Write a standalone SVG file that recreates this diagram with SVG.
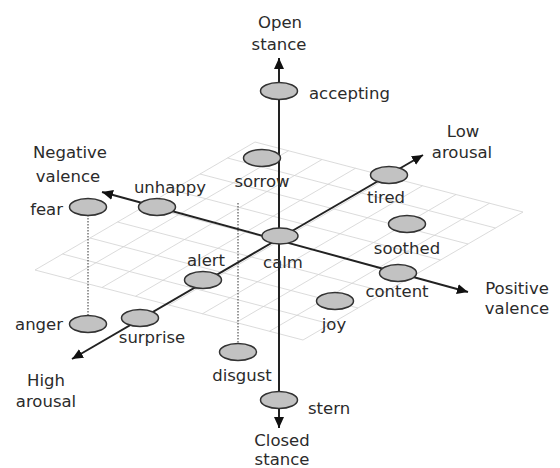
<svg xmlns="http://www.w3.org/2000/svg" width="560" height="468" viewBox="0 0 560 468">
<defs>
<style>
.grid{stroke:#d2d2d2;stroke-width:0.8;fill:none}
.axis{stroke:#222;stroke-width:2;fill:none}
.dot{stroke:#333;stroke-width:1;stroke-dasharray:1.5,1.5;fill:none}
.n{fill:#c2c2c2;stroke:#333;stroke-width:1.5}
text{font-family:"DejaVu Sans","Liberation Sans",sans-serif;font-size:16.5px;fill:#2b2b2b}
.m{text-anchor:middle}
.e{text-anchor:end}
</style>
<marker id="arr" markerUnits="userSpaceOnUse" markerWidth="12" markerHeight="10" refX="11" refY="5" orient="auto">
<path d="M0,0 L11,5 L0,10 z" fill="#111"/>
</marker>
</defs>
<rect width="560" height="468" fill="#fff"/>
<g id="grid" class="grid">
<path d="M35,270 L255,142 M68.5,278.75 L288.5,150.75 M102,287.5 L322,159.5 M135.5,296.25 L355.5,168.25 M169,305 L389,177 M202.5,313.75 L422.5,185.75 M236,322.5 L456,194.5 M269.5,331.25 L489.5,203.25 M303,340 L523,212"/>
<path d="M35,270 L303,340 M62.5,254 L330.5,324 M90,238 L358,308 M117.5,222 L385.5,292 M145,206 L413,276 M172.5,190 L440.5,260 M200,174 L468,244 M227.5,158 L495.5,228 M255,142 L523,212"/>
</g>
<g id="connectors">
<line class="axis" x1="279" y1="236" x2="279" y2="58" marker-end="url(#arr)"/>
<line class="axis" x1="279" y1="236" x2="279" y2="428" marker-end="url(#arr)"/>
<line class="axis" x1="280" y1="240.6" x2="102" y2="192" marker-end="url(#arr)"/>
<line class="axis" x1="280" y1="240.6" x2="468" y2="292" marker-end="url(#arr)"/>
<line class="axis" x1="280" y1="238" x2="72" y2="359" marker-end="url(#arr)"/>
<line class="axis" x1="280" y1="238" x2="423" y2="155" marker-end="url(#arr)"/>
<line class="dot" x1="88" y1="215" x2="88" y2="316"/>
<line class="dot" x1="238" y1="203" x2="238" y2="344"/>
</g>
<g id="axis-labels">
<text class="m" x="280" y="28">Open</text>
<text class="m" x="279" y="50">stance</text>
<text class="m" x="463" y="137">Low</text>
<text class="m" x="462" y="158">arousal</text>
<text class="m" x="70" y="158">Negative</text>
<text class="m" x="68" y="182">valence</text>
<text class="m" x="517" y="294">Positive</text>
<text class="m" x="517" y="314">valence</text>
<text class="m" x="46" y="386">High</text>
<text class="m" x="46" y="407">arousal</text>
<text class="m" x="282" y="446">Closed</text>
<text class="m" x="282" y="465">stance</text>
</g>
<g id="sorrow"><ellipse class="n" cx="262" cy="158" rx="18.5" ry="8.5"/><text class="m" x="262" y="187">sorrow</text></g>
<g id="accepting"><ellipse class="n" cx="279" cy="91" rx="18.5" ry="8.5"/><text x="309" y="99">accepting</text></g>
<g id="fear"><ellipse class="n" cx="88" cy="207" rx="18.5" ry="8.5"/><text class="e" x="63" y="215">fear</text></g>
<g id="unhappy"><ellipse class="n" cx="157" cy="207" rx="18.5" ry="8.5"/><text class="m" x="170" y="193">unhappy</text></g>
<g id="tired"><ellipse class="n" cx="389" cy="175" rx="18.5" ry="8.5"/><text class="m" x="386" y="203">tired</text></g>
<g id="soothed"><ellipse class="n" cx="407" cy="224" rx="18.5" ry="8.5"/><text class="m" x="407" y="254">soothed</text></g>
<g id="calm"><ellipse class="n" cx="280" cy="236" rx="18" ry="8"/><text class="m" x="283" y="268">calm</text></g>
<g id="content"><ellipse class="n" cx="398" cy="273" rx="18.5" ry="8.5"/><text class="m" x="397" y="297">content</text></g>
<g id="joy"><ellipse class="n" cx="335" cy="301" rx="18.5" ry="8.5"/><text class="m" x="334" y="330">joy</text></g>
<g id="alert"><ellipse class="n" cx="203" cy="280" rx="18.5" ry="8.5"/><text class="m" x="206" y="266">alert</text></g>
<g id="surprise"><ellipse class="n" cx="140" cy="318" rx="18.5" ry="8.5"/><text class="m" x="152" y="343">surprise</text></g>
<g id="anger"><ellipse class="n" cx="88" cy="324" rx="18.5" ry="8.5"/><text class="e" x="63" y="330">anger</text></g>
<g id="disgust"><ellipse class="n" cx="238" cy="352" rx="18.5" ry="8.5"/><text class="m" x="242" y="381">disgust</text></g>
<g id="stern"><ellipse class="n" cx="279" cy="400" rx="18.5" ry="8.5"/><text x="308" y="414">stern</text></g>
</svg>
